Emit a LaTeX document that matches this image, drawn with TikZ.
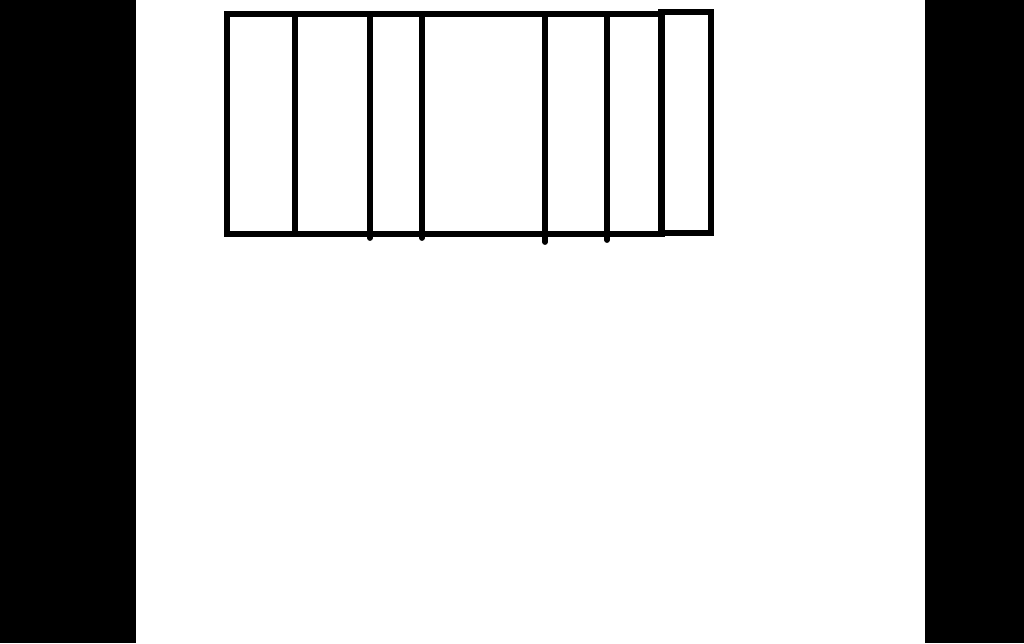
\documentclass[tikz,border=0pt]{standalone}
\usetikzlibrary{positioning}

\tikzset{
  frame/.style={draw=black,line width=3.3pt},
  bar/.style={draw=black,line width=3.3pt,line cap=round}
}

\begin{document}
\begin{tikzpicture}[x=0.02cm,y=-0.02cm]
% page and black side bands
\fill[black] (0,0) rectangle (1024,643);
\fill[white] (136,0) rectangle (925,643);
\useasboundingbox (0,0) rectangle (1024,643);
% outer box
\coordinate (tl) at (227,14);
\coordinate (br) at (662,234);
\draw[frame] (tl) rectangle (br);
% dividers
\draw[bar] (295,14) -- (295,234);
\draw[bar] (370,15) -- (370,238);
\draw[bar] (422,15) -- (422,238);
\draw[bar] (545,15) -- (545,242);
\draw[bar] (607,16) -- (607,240);
% small end box
\coordinate (etl) at (661,12);
\coordinate (ebr) at (711,233);
\draw[frame] (etl) rectangle (ebr);
\end{tikzpicture}
\end{document}
